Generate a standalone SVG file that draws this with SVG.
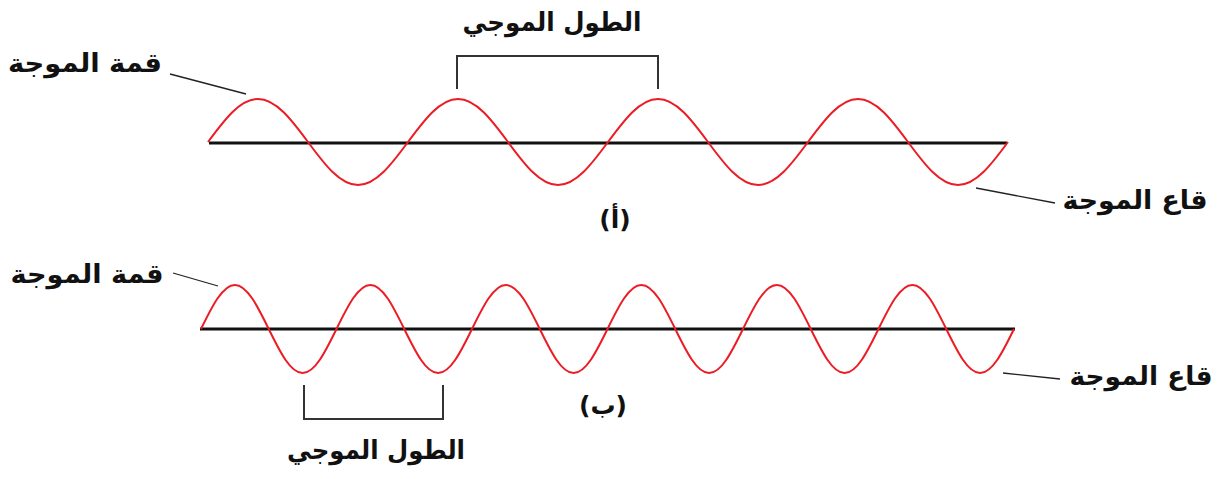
<svg xmlns="http://www.w3.org/2000/svg" width="1217" height="479" viewBox="0 0 1217 479">
<style>
.axis{stroke:#111;stroke-width:3;fill:none}
.wave{stroke:#ec1c24;stroke-width:2;fill:none}
.lead{stroke:#222;stroke-width:1.3;fill:none}
.brk{stroke:#333;stroke-width:2;fill:none}
.lbl{font-family:"DejaVu Sans",sans-serif;font-weight:bold;font-size:26px;fill:#111;text-anchor:middle}
.tag{font-family:"DejaVu Sans",sans-serif;font-weight:bold;font-size:25px;fill:#111;text-anchor:middle}
</style>
<rect width="1217" height="479" fill="#fff"/>
<g id="wave-a">
<line class="axis" x1="209" y1="143" x2="1007" y2="143"/>
<path class="wave" d="M208,142 c16.31,-22.03 31.9,-43 50,-43 s33.69,20.97 50,43 s31.9,43 50,43 s33.69,-20.97 50,-43 s31.9,-43 50,-43 s33.69,20.97 50,43 s31.9,43 50,43 s33.69,-20.97 50,-43 s31.9,-43 50,-43 s33.69,20.97 50,43 s31.9,43 50,43 s33.69,-20.97 50,-43 s31.9,-43 50,-43 s33.69,20.97 50,43 s31.9,43 50,43 s33.69,-20.97 50,-43"/>
</g>
<g id="wave-b">
<line class="axis" x1="200" y1="329" x2="1015" y2="329"/>
<path class="wave" d="M201,329 c11.05,-22.54 21.61,-44 33.875,-44 s22.825,21.46 33.875,44 s21.61,44 33.875,44 s22.825,-21.46 33.875,-44 s21.61,-44 33.875,-44 s22.825,21.46 33.875,44 s21.61,44 33.875,44 s22.825,-21.46 33.875,-44 s21.61,-44 33.875,-44 s22.825,21.46 33.875,44 s21.61,44 33.875,44 s22.825,-21.46 33.875,-44 s21.61,-44 33.875,-44 s22.825,21.46 33.875,44 s21.61,44 33.875,44 s22.825,-21.46 33.875,-44 s21.61,-44 33.875,-44 s22.825,21.46 33.875,44 s21.61,44 33.875,44 s22.825,-21.46 33.875,-44 s21.61,-44 33.875,-44 s22.825,21.46 33.875,44 s21.61,44 33.875,44 s22.825,-21.46 33.875,-44"/>
</g>
<g id="connectors">
<line class="lead" x1="170" y1="74" x2="246" y2="94"/>
<line class="lead" x1="976" y1="188" x2="1055" y2="203"/>
<line class="lead" x1="173" y1="273" x2="218" y2="286"/>
<line class="lead" x1="1003" y1="373" x2="1060" y2="379"/>
<polyline class="brk" points="457,89 457,56 658,56 658,89"/>
<polyline class="brk" points="304,385 304,419 443,419 443,385"/>
</g>
<g id="label-wavelength-a"><text class="lbl" x="552" y="31" textLength="179" lengthAdjust="spacingAndGlyphs">الطول الموجي</text></g>
<g id="label-crest-a"><text class="lbl" x="85" y="72" textLength="154" lengthAdjust="spacingAndGlyphs">قمة الموجة</text></g>
<g id="label-trough-a"><text class="lbl" x="1135" y="209" textLength="145" lengthAdjust="spacingAndGlyphs">قاع الموجة</text></g>
<g id="label-a"><text class="tag" x="615" y="228">(أ)</text></g>
<g id="label-crest-b"><text class="lbl" x="87" y="283" textLength="153" lengthAdjust="spacingAndGlyphs">قمة الموجة</text></g>
<g id="label-trough-b"><text class="lbl" x="1141" y="385" textLength="143" lengthAdjust="spacingAndGlyphs">قاع الموجة</text></g>
<g id="label-b"><text class="tag" x="603" y="414">(ب)</text></g>
<g id="label-wavelength-b"><text class="lbl" x="376" y="459" textLength="178" lengthAdjust="spacingAndGlyphs">الطول الموجي</text></g>
</svg>
